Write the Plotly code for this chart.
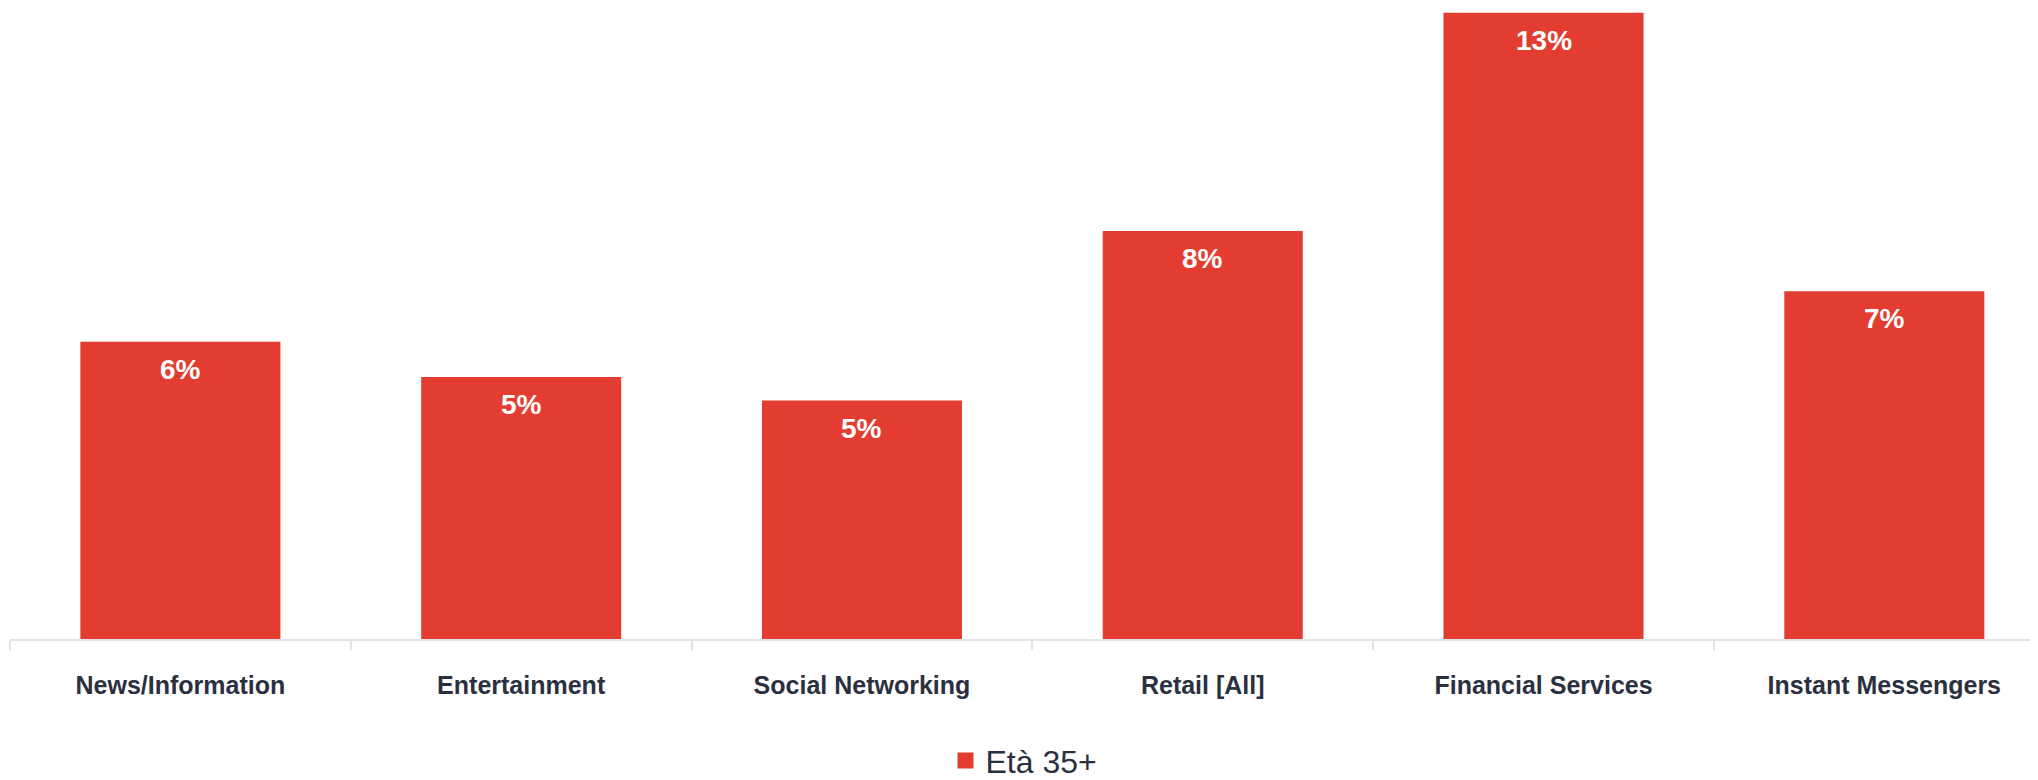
import plotly.graph_objects as go

categories = ["News/Information", "Entertainment", "Social Networking", "Retail [All]", "Financial Services", "Instant Messengers"]
values = [6.17, 5.44, 4.95, 8.47, 13.0, 7.22]
series_name = "Età 35+"

BAR = "#E33D32"
TEXT = "#2B3040"
AXIS = "#DFE3EA"
FONT = "Liberation Sans, Arial, sans-serif"

fig = go.Figure()
fig.add_trace(go.Bar(
    x=categories, y=values, name=series_name,
    marker=dict(color=BAR, line=dict(width=0)),
    width=0.587, showlegend=False, hoverinfo="skip",
))
fig.add_trace(go.Scatter(
    x=[None], y=[None], mode="markers", name=series_name,
    marker=dict(symbol="square", size=19, color=BAR),
    showlegend=True,
))

for c, v in zip(categories, values):
    fig.add_annotation(
        x=c, y=v, xref="x", yref="y", text=f"<b>{v:.0f}%</b>",
        showarrow=False, yanchor="top", yshift=-10,
        font=dict(family=FONT, size=28, color="white"),
    )

fig.update_layout(
    width=2030, height=772,
    margin=dict(l=2, r=0, t=0, b=141, autoexpand=False),
    paper_bgcolor="white", plot_bgcolor="white",
    font=dict(family=FONT, color=TEXT),
    legend=dict(
        orientation="h", x=0.5, xanchor="center",
        yref="container", y=0.025, yanchor="middle",
        font=dict(size=32, color=TEXT), bgcolor="rgba(0,0,0,0)",
    ),
    xaxis=dict(
        range=[-0.5, 5.451], showgrid=False, zeroline=False, automargin=False,
        showline=True, linecolor=AXIS, linewidth=2,
        ticks="outside", tickson="boundaries", ticklen=9, tickcolor=AXIS, tickwidth=2,
        tickfont=dict(size=25, color=TEXT, family=FONT),
        ticklabelstandoff=23,
        tickprefix="<b>", ticksuffix="</b>",
    ),
    yaxis=dict(
        range=[0, 13.1], showgrid=False, zeroline=False, showline=False,
        showticklabels=False, ticks="", automargin=False,
    ),
)

fig.write_html("out.html")
